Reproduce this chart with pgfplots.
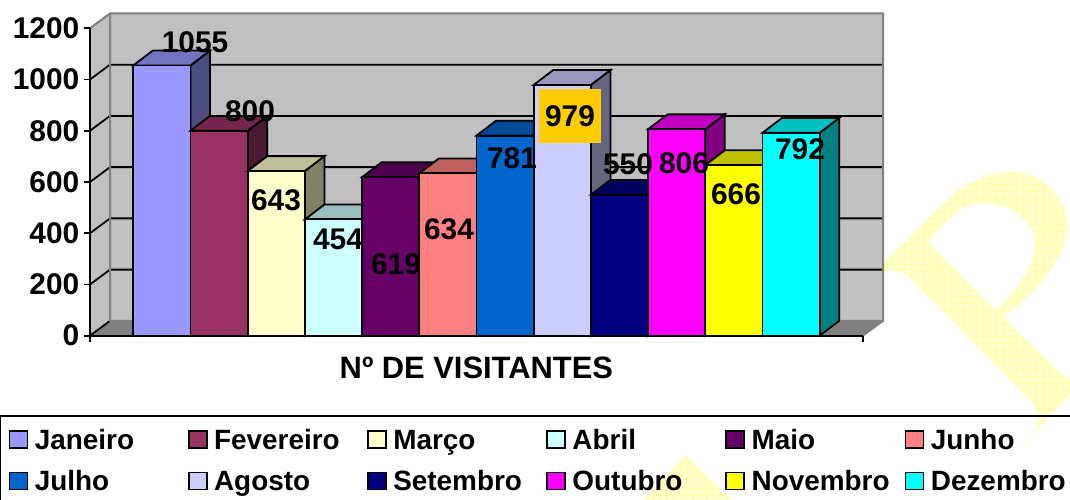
\documentclass[border=0pt]{standalone}
\usepackage{fontspec}
\setmainfont{Liberation Sans}
\usepackage{pgfplots}
\pgfplotsset{compat=1.18}
\definecolor{wm}{HTML}{FFFFCC}
\definecolor{wmg}{HTML}{FFFFA8}
\definecolor{wall}{HTML}{C0C0C0}
\definecolor{edge}{HTML}{808080}
\definecolor{lab979}{HTML}{FFCC00}
\definecolor{c1}{HTML}{9999FF}
\definecolor{c2}{HTML}{993366}
\definecolor{c3}{HTML}{FFFFCC}
\definecolor{c4}{HTML}{CCFFFF}
\definecolor{c5}{HTML}{660066}
\definecolor{c6}{HTML}{FF8080}
\definecolor{c7}{HTML}{0066CC}
\definecolor{c8}{HTML}{CCCCFF}
\definecolor{c9}{HTML}{000080}
\definecolor{c10}{HTML}{FF00FF}
\definecolor{c11}{HTML}{FFFF00}
\definecolor{c12}{HTML}{00FFFF}
\newcommand{\lab}{\bfseries\fontsize{30}{33}\selectfont}
\newcommand{\leg}[1]{\makebox[159.4bp][l]{\hspace{6.5bp}\rule[-7bp]{0pt}{34bp}#1}}
\tikzset{lbl/.style={font=\lab,inner sep=0pt,anchor=center}}
\pgfplotsset{
  swatch/.style={legend image code/.code={\draw[##1,draw=black,line width=1.8bp] (0bp,-11.5bp) rectangle (18bp,5.5bp);}},
  front/.style={ybar,bar width=57.2bp,bar shift=0pt,fill=#1,draw=black,line width=1.8bp,swatch},
  side/.style={forget plot,fill=#1!50!black,draw=black,line width=1.8bp},
  topf/.style={forget plot,fill=#1!75!black,draw=black,line width=1.8bp},
  gridl/.style={forget plot,draw=black,line width=1.8bp},
  wallf/.style={forget plot,fill=#1,draw=none},
  edgel/.style={forget plot,draw=edge,line width=2bp}
}
\def\Ppath{(883,263) -- (955,193) .. controls (975,178) and (995,172) .. (1010,172) .. controls (1040,172) and (1067,195) .. (1067,225) .. controls (1067,255) and (1040,290) .. (1003,317) -- (1055,368) .. controls (1060,373) and (1066,378) .. (1072,380) -- (1072,392) -- (1023,445) .. controls (1032,438) and (1040,425) .. (1037,412) .. controls (1035,405) and (1030,400) .. (1025,395) -- (912,280) .. controls (905,272) and (895,268) .. (883,272) -- cycle (928,242) .. controls (945,222) and (960,203) .. (983,203) .. controls (1010,203) and (1035,220) .. (1035,243) .. controls (1035,265) and (1015,295) .. (995,310) -- cycle}
\def\Qpath{(685,455) -- (642,502) -- (734,502) -- cycle}
\begin{document}
\begin{tikzpicture}
\path[use as bounding box] (0,0) rectangle (1070bp,500bp);
\begin{scope}
\clip (0,0) rectangle (1070bp,500bp);
\begin{scope}[x=1bp,y=-1bp,yshift=500bp]
\fill[wm,even odd rule] \Ppath;
\fill[wm] \Qpath;
\begin{scope}[even odd rule]
\clip \Ppath;
\draw[wmg,line width=0.4bp,step=6.6bp] (860,160) grid (1072,460);
\end{scope}
\begin{scope}
\clip \Qpath;
\draw[wmg,line width=0.4bp,step=6.6bp] (630,450) grid (740,502);
\end{scope}
\draw[black,line width=1.8bp] (0,416) -- (1070,416);
\draw[black,line width=1.8bp] (0.5,416) -- (0.5,500);
\end{scope}
\end{scope}
\begin{axis}[
  at={(90bp,164.3bp)},anchor=south west,
  scale only axis,width=772.7bp,height=307.4bp,
  xmin=-1.257,xmax=12.252,ymin=0,ymax=1200,
  clip=false,axis on top=true,
  axis lines*=left,
  axis line style={-,black,line width=2bp},
  tick style={black,line width=1.8bp},
  tick align=outside,major tick length=6bp,
  xtick={-1.257,12.252},xticklabels={,},
  ytick={0,200,400,600,800,1000,1200},
  /pgf/number format/assume math mode=true,
  /pgf/number format/1000 sep={},
  yticklabel style={font=\lab,inner sep=0pt,xshift=-4.5bp},
  xlabel={Nº DE VISITANTES},
  xlabel style={font=\bfseries\fontsize{31}{34}\selectfont,at={(axis description cs:0.5,-0.105)},anchor=center,inner sep=0pt},
  legend columns=6,
  legend cell align=left,
  legend style={draw=none,fill=none,at={(axis description cs:-0.1056,-0.281)},anchor=north west,
    font=\bfseries\fontsize{28}{31}\selectfont,inner sep=0pt,column sep=0pt,row sep=13bp,
    nodes={inner sep=0pt}},
]
% walls
\addplot[wallf=wall] coordinates {(-0.907,58) (12.607,58) (12.607,1258) (-0.907,1258)} -- cycle;
\addplot[wallf=wall] coordinates {(-1.257,0) (-0.907,58) (-0.907,1258) (-1.257,1200)} -- cycle;
\addplot[wallf=edge] coordinates {(-1.257,0) (-0.907,58) (12.607,58) (12.252,0)} -- cycle;
% gridlines
\addplot[gridl] coordinates {(-1.257,0) (-0.907,58)};
\addplot[gridl] coordinates {(-1.257,200) (-0.907,258) (12.607,258)};
\addplot[gridl] coordinates {(-1.257,400) (-0.907,458) (12.607,458)};
\addplot[gridl] coordinates {(-1.257,600) (-0.907,658) (12.607,658)};
\addplot[gridl] coordinates {(-1.257,800) (-0.907,858) (12.607,858)};
\addplot[gridl] coordinates {(-1.257,1000) (-0.907,1058) (12.607,1058)};
% wall edges
\addplot[edgel] coordinates {(-1.257,1200) (-0.907,1258) (12.607,1258) (12.607,58) (-0.907,58) (-0.907,1258)};
\addplot[edgel] coordinates {(12.252,0) (12.607,58)};
% bars
\addplot[side=c1] coordinates {(0.5,0) (0.841,58) (0.841,1113) (0.5,1055)} -- cycle;
\addplot[topf=c1] coordinates {(-0.5,1055) (0.5,1055) (0.841,1113) (-0.159,1113)} -- cycle;
\addplot[front=c1] coordinates {(0,1055)};
\addlegendentry{\leg{Janeiro}}
\addplot[side=c2] coordinates {(1.5,0) (1.841,58) (1.841,858) (1.5,800)} -- cycle;
\addplot[topf=c2] coordinates {(0.5,800) (1.5,800) (1.841,858) (0.841,858)} -- cycle;
\addplot[front=c2] coordinates {(1,800)};
\addlegendentry{\leg{Fevereiro}}
\addplot[side=c3] coordinates {(2.5,0) (2.841,58) (2.841,701) (2.5,643)} -- cycle;
\addplot[topf=c3] coordinates {(1.5,643) (2.5,643) (2.841,701) (1.841,701)} -- cycle;
\addplot[front=c3] coordinates {(2,643)};
\addlegendentry{\leg{Março}}
\addplot[side=c4] coordinates {(3.5,0) (3.841,58) (3.841,512) (3.5,454)} -- cycle;
\addplot[topf=c4] coordinates {(2.5,454) (3.5,454) (3.841,512) (2.841,512)} -- cycle;
\addplot[front=c4] coordinates {(3,454)};
\addlegendentry{\leg{Abril}}
\addplot[side=c5] coordinates {(4.5,0) (4.841,58) (4.841,677) (4.5,619)} -- cycle;
\addplot[topf=c5] coordinates {(3.5,619) (4.5,619) (4.841,677) (3.841,677)} -- cycle;
\addplot[front=c5] coordinates {(4,619)};
\addlegendentry{\leg{Maio}}
\addplot[side=c6] coordinates {(5.5,0) (5.841,58) (5.841,692) (5.5,634)} -- cycle;
\addplot[topf=c6] coordinates {(4.5,634) (5.5,634) (5.841,692) (4.841,692)} -- cycle;
\addplot[front=c6] coordinates {(5,634)};
\addlegendentry{\leg{Junho}}
\addplot[side=c7] coordinates {(6.5,0) (6.841,58) (6.841,839) (6.5,781)} -- cycle;
\addplot[topf=c7] coordinates {(5.5,781) (6.5,781) (6.841,839) (5.841,839)} -- cycle;
\addplot[front=c7] coordinates {(6,781)};
\addlegendentry{\leg{Julho}}
\addplot[side=c8] coordinates {(7.5,0) (7.841,58) (7.841,1037) (7.5,979)} -- cycle;
\addplot[topf=c8] coordinates {(6.5,979) (7.5,979) (7.841,1037) (6.841,1037)} -- cycle;
\addplot[front=c8] coordinates {(7,979)};
\addlegendentry{\leg{Agosto}}
\addplot[side=c9] coordinates {(8.5,0) (8.841,58) (8.841,608) (8.5,550)} -- cycle;
\addplot[topf=c9] coordinates {(7.5,550) (8.5,550) (8.841,608) (7.841,608)} -- cycle;
\addplot[front=c9] coordinates {(8,550)};
\addlegendentry{\leg{Setembro}}
\addplot[side=c10] coordinates {(9.5,0) (9.841,58) (9.841,864) (9.5,806)} -- cycle;
\addplot[topf=c10] coordinates {(8.5,806) (9.5,806) (9.841,864) (8.841,864)} -- cycle;
\addplot[front=c10] coordinates {(9,806)};
\addlegendentry{\leg{Outubro}}
\addplot[side=c11] coordinates {(10.5,0) (10.841,58) (10.841,724) (10.5,666)} -- cycle;
\addplot[topf=c11] coordinates {(9.5,666) (10.5,666) (10.841,724) (9.841,724)} -- cycle;
\addplot[front=c11] coordinates {(10,666)};
\addlegendentry{\leg{Novembro}}
\addplot[side=c12] coordinates {(11.5,0) (11.841,58) (11.841,850) (11.5,792)} -- cycle;
\addplot[topf=c12] coordinates {(10.5,792) (11.5,792) (11.841,850) (10.841,850)} -- cycle;
\addplot[front=c12] coordinates {(11,792)};
\addlegendentry{\leg{Dezembro}}
% data labels
\node[lbl] at (axis cs:0.579,1146) {1055};
\node[lbl] at (axis cs:1.540,877) {800};
\node[lbl] at (axis cs:1.995,530) {643};
\node[lbl] at (axis cs:3.079,377) {454};
\node[lbl] at (axis cs:4.093,280) {619};
\node[lbl] at (axis cs:5.019,416) {634};
\node[lbl] at (axis cs:6.121,694) {781};
\node[lbl,fill=lab979,minimum width=62bp,minimum height=54bp] at (axis cs:7.135,857) {979};
\node[lbl] at (axis cs:8.149,670) {550};
\node[lbl] at (axis cs:9.127,674) {806};
\node[lbl] at (axis cs:10.036,553) {666};
\node[lbl] at (axis cs:11.155,729) {792};
\end{axis}
\end{tikzpicture}
\end{document}
